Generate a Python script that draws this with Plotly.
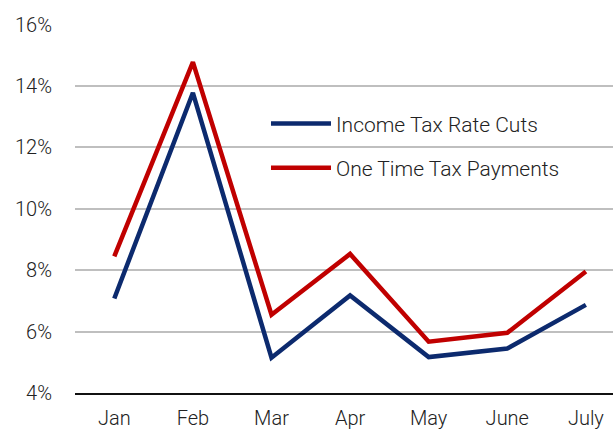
import plotly.graph_objects as go

months = ["Jan", "Feb", "Mar", "Apr", "May", "June", "July"]
income_tax_rate_cuts = [7.08, 13.78, 5.15, 7.18, 5.17, 5.45, 6.87]
one_time_tax_payments = [8.45, 14.78, 6.55, 8.53, 5.67, 5.96, 7.96]
y_ticks = [4, 6, 8, 10, 12, 14, 16]
y_tick_labels = [f"{v}%" for v in y_ticks]

FONT = "Roboto, sans-serif"

fig = go.Figure()
fig.add_trace(go.Scatter(x=months, y=income_tax_rate_cuts, mode="lines",
                         name="Income Tax Rate Cuts", legendgroup="a",
                         line=dict(color="#0c2a6e", width=4.5)))
fig.add_trace(go.Scatter(x=months, y=one_time_tax_payments, mode="lines",
                         name="One Time Tax Payments", legendgroup="b",
                         line=dict(color="#c00000", width=4.5)))

fig.update_layout(
    width=613, height=433,
    margin=dict(l=75, r=0, t=24, b=40),
    paper_bgcolor="white", plot_bgcolor="white",
    font=dict(family=FONT, size=20, color="#222222", weight=300),
    showlegend=True,
    legend=dict(x=0.355, y=0.785, xanchor="left", yanchor="top",
                bgcolor="rgba(0,0,0,0)",
                font=dict(size=21, family=FONT, weight=300),
                tracegroupgap=14, itemwidth=60),
    xaxis=dict(type="category", range=[-0.5, 6.345], showgrid=False,
               showline=True, linecolor="#111111", linewidth=1.5,
               ticks="outside", ticklen=6, tickcolor="rgba(0,0,0,0)",
               tickfont=dict(size=20, weight=300)),
    yaxis=dict(range=[4, 16.02], tickmode="array", tickvals=y_ticks,
               ticktext=y_tick_labels,
               showgrid=True, gridcolor="#bfbfbf", gridwidth=2,
               zeroline=False, showline=False, ticks="outside",
               ticklen=18, tickcolor="rgba(0,0,0,0)",
               tickfont=dict(size=20, weight=300)),
)

fig.write_html("out.html")
